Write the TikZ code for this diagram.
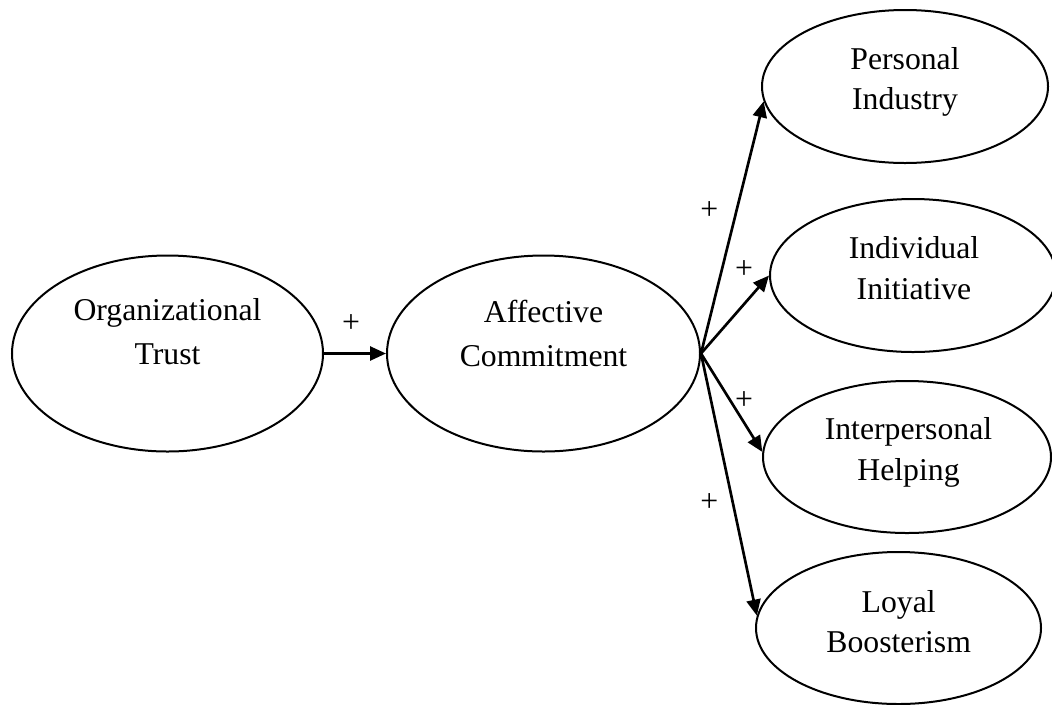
\documentclass[tikz,border=0pt]{standalone}
\usepackage{fontspec}
\setmainfont{Liberation Serif}
\usetikzlibrary{arrows.meta,shapes.geometric}
\tikzset{
  ell/.style={draw, ellipse, line width=1.5pt, inner sep=0pt},
  lefttxt/.style={align=center, inner sep=0pt, font=\fontsize{23.8pt}{33pt}\selectfont},
  righttxt/.style={align=center, inner sep=0pt, font=\fontsize{23.8pt}{30.4pt}\selectfont},
  plus/.style={inner sep=0pt, font=\fontsize{23.8pt}{28pt}\selectfont},
  conn/.style={line width=2pt, -{Triangle[length=12pt,width=10.5pt]}}
}
\begin{document}
\begin{tikzpicture}[x=0.75pt,y=-0.75pt]
\useasboundingbox (0,0) rectangle (1052,704);
% ellipses
\node[ell, minimum width=233.25pt, minimum height=147pt] (ot) at (167.5,353.5) {};
\node[ell, minimum width=234.75pt, minimum height=147pt] (ac) at (543.5,353.5) {};
\node[ell, minimum width=214.5pt, minimum height=114.75pt] (pi) at (905,86.5) {};
\node[ell, minimum width=214.5pt, minimum height=114.75pt] (ii) at (913,275.5) {};
\node[ell, minimum width=216pt, minimum height=114pt] (ih) at (907,457) {};
\node[ell, minimum width=213.75pt, minimum height=114pt] (lb) at (898.5,628) {};
% texts
\node[lefttxt] (ott) at (167.5,331.5) {Organizational\\Trust};
\node[lefttxt] (act) at (543.5,333.5) {Affective\\Commitment};
\node[righttxt] (pit) at (905,82) {Personal\\Industry};
\node[righttxt] (iit) at (914,268) {Individual\\Initiative};
\node[righttxt] (iht) at (908.5,452.3) {Interpersonal\\Helping};
\node[righttxt] (lbt) at (898.7,621.7) {Loyal\\Boosterism};
% connectors
\draw[conn] (ot.east) -- (ac.west);
\draw[conn] (ac.east) -- (pi.186.7);
\draw[conn] (ac.east) -- (ii.180.6);
\draw[conn] (ac.east) -- (ih.178);
\draw[conn] (ac.east) -- (lb.175.6);
% signs
\node[plus] (p1) at (351,324) {+};
\node[plus] (p2) at (709.3,210.7) {+};
\node[plus] (p3) at (744,269.3) {+};
\node[plus] (p4) at (744,401) {+};
\node[plus] (p5) at (709.3,502.3) {+};
\end{tikzpicture}
\end{document}
